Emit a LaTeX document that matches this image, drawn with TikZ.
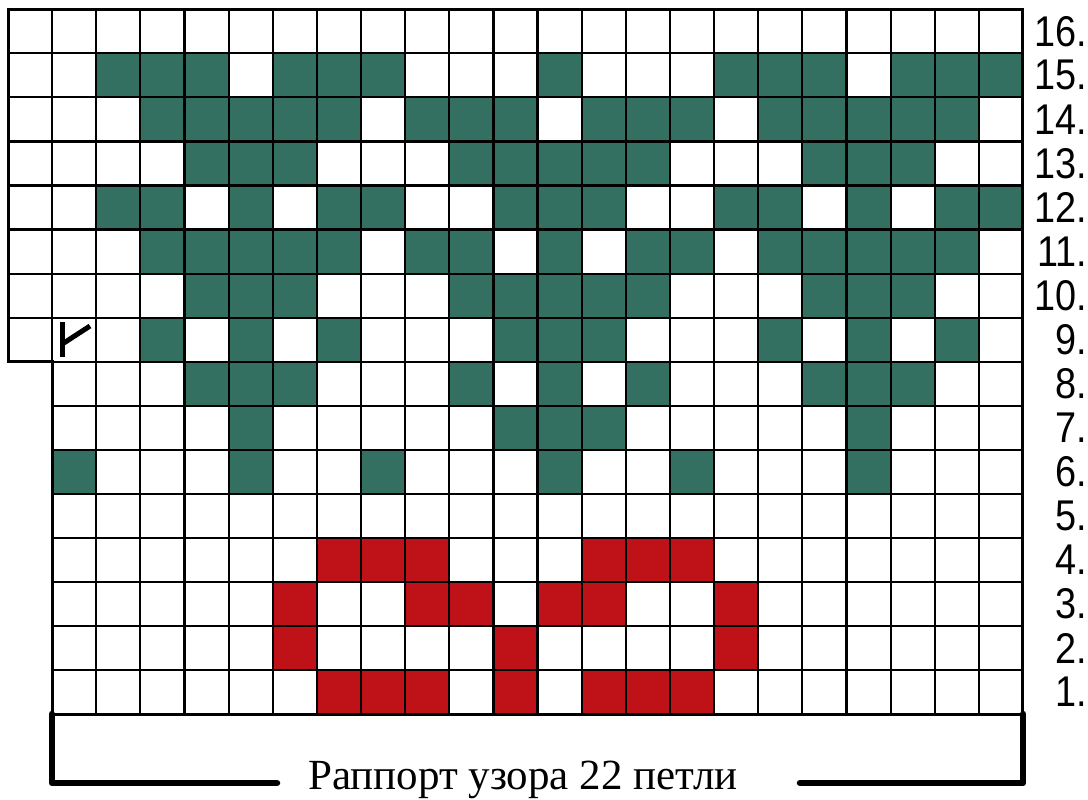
\documentclass[tikz,border=0pt]{standalone}
\usepackage{fontspec}
\setmainfont{Liberation Serif}
\newfontfamily\labelfont{Liberation Sans}
\definecolor{knitgreen}{RGB}{52,112,98}
\definecolor{knitred}{RGB}{190,17,24}
\begin{document}
\begin{tikzpicture}[x=1pt,y=-1pt,
  gridline/.style={line width=2.2pt,black},
  gridborder/.style={line width=3pt,black,line join=miter},
  bracketline/.style={line width=6.5pt,black,line cap=round,line join=round},
  rowlabel/.style={anchor=east,inner sep=0pt,font=\labelfont\fontsize{43}{43}\selectfont,xscale=0.88},
  caption/.style={anchor=base,inner sep=0pt,font=\fontsize{43}{50}\selectfont}]
\useasboundingbox (0,0) rectangle (1088,800);
\fill[white] (0,0) rectangle (1088,800);
\def\W{44.13}\def\H{44.05}\def\XO{8}\def\YO{9.3}
% green cells
\foreach \r/\cl in {15/{2,3,4,6,7,8,12,16,17,18,20,21,22},
  14/{3,4,5,6,7,9,10,11,13,14,15,17,18,19,20,21},
  13/{4,5,6,10,11,12,13,14,18,19,20},
  12/{2,3,5,7,8,11,12,13,16,17,19,21,22},
  11/{3,4,5,6,7,9,10,12,14,15,17,18,19,20,21},
  10/{4,5,6,10,11,12,13,14,18,19,20},
  9/{3,5,7,11,12,13,17,19,21},
  8/{4,5,6,10,12,14,18,19,20},
  7/{5,11,12,13,19},
  6/{1,5,8,12,15,19}}{
  \foreach \c in \cl {
    \fill[knitgreen] ({\XO+\c*\W},{\YO+(16-\r)*\H}) rectangle ++(\W,\H);
  }
}
% red cells
\foreach \r/\cl in {4/{7,8,9,13,14,15},
  3/{6,9,10,12,13,16},
  2/{6,11,16},
  1/{7,8,9,11,13,14,15}}{
  \foreach \c in \cl {
    \fill[knitred] ({\XO+\c*\W},{\YO+(16-\r)*\H}) rectangle ++(\W,\H);
  }
}
% grid lines
\foreach \j in {1,...,7}{
  \draw[gridline] (\XO,{\YO+\j*\H}) -- ({\XO+23*\W},{\YO+\j*\H});
}
\foreach \j in {8,...,15}{
  \draw[gridline] ({\XO+\W},{\YO+\j*\H}) -- ({\XO+23*\W},{\YO+\j*\H});
}
\draw[gridline] (\XO,{\YO+8*\H}) -- ({\XO+\W},{\YO+8*\H});
\foreach \k in {2,...,22}{
  \draw[gridline] ({\XO+\k*\W},\YO) -- ({\XO+\k*\W},{\YO+16*\H});
}
\draw[gridline] ({\XO+\W},\YO) -- ({\XO+\W},{\YO+16*\H});
\draw[gridborder] (\XO,\YO) -- ({\XO+23*\W},\YO) -- ({\XO+23*\W},{\YO+16*\H})
  -- ({\XO+\W},{\YO+16*\H}) -- ({\XO+\W},{\YO+8*\H}) -- (\XO,{\YO+8*\H}) -- cycle;
% symbol in row 9
\draw[line width=5pt,black] (62.3,322) -- (62.3,357);
\draw[line width=5pt,black] (62.3,344) -- (90,326);
% row labels
\foreach \r in {1,...,16}{
  \node[rowlabel] (lab\r) at (1087,{\YO+(16.5-\r)*\H}) {\r.};
}
% caption and bracket
\node[caption] (cap) at (523,789) {Раппорт узора 22 петли};
\coordinate (bl1) at (52,714);
\coordinate (bl2) at (52,783);
\coordinate (bl3) at (277,783);
\coordinate (br1) at (1023,714);
\coordinate (br2) at (1023,783);
\coordinate (br3) at (800,783);
\draw[bracketline] (bl3) -- (bl2) -- (bl1);
\draw[bracketline] (br3) -- (br2) -- (br1);
\end{tikzpicture}
\end{document}
